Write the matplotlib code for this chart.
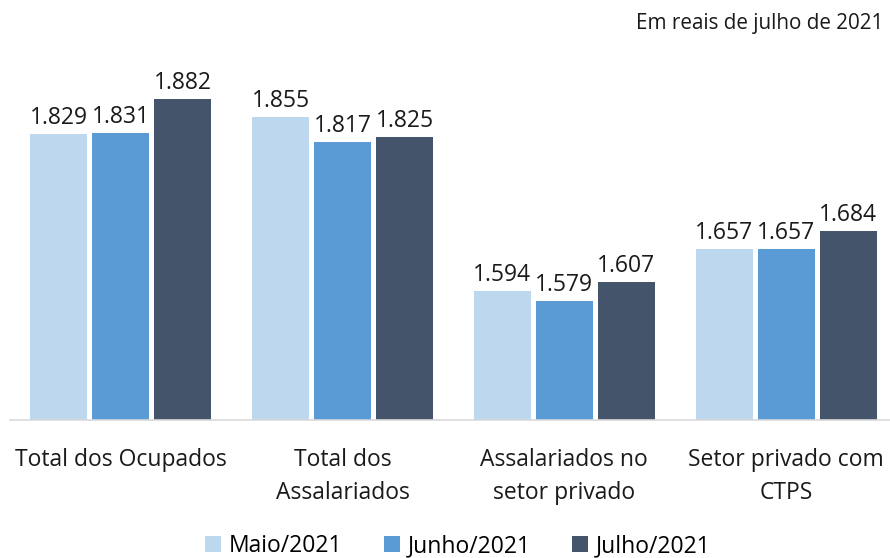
import numpy as np
import matplotlib.pyplot as plt
from matplotlib.patches import Patch

plt.rcParams["font.family"] = ["Open Sans", "DejaVu Sans"]

# data
categories = ["Total dos Ocupados", "Total dos\nAssalariados",
              "Assalariados no\nsetor privado", "Setor privado com\nCTPS"]
series_names = ["Maio/2021", "Junho/2021", "Julho/2021"]
maio = [1829, 1855, 1594, 1657]
junho = [1831, 1817, 1579, 1657]
julho = [1882, 1825, 1607, 1684]
colors = ["#BDD7EE", "#5B9BD5", "#44546A"]

fig = plt.figure(figsize=(8.9, 5.58), dpi=100)
ax = fig.add_axes([10 / 890, 138 / 558, 887 / 890, 400 / 558])

x = np.arange(len(categories))
width = 0.257
step = 0.28

for i, (vals, col, name) in enumerate(zip([maio, junho, julho], colors, series_names)):
    pos = x + (i - 1) * step
    bars = ax.bar(pos, vals, width, color=col, label=name, zorder=2)
    for b, v in zip(bars, vals):
        ax.text(b.get_x() + b.get_width() / 2, v + 6,
                f"{v / 1000:.3f}", ha="center", va="bottom",
                fontsize=16.5, color="#1a1a1a")

ax.set_ylim(1400, 2000)
ax.set_xlim(-0.5, len(categories) - 0.5)
ax.set_yticks([])
ax.set_xticks(x)
ax.set_xticklabels(categories, fontsize=16.5, color="#1a1a1a", linespacing=1.5)
ax.tick_params(axis="x", length=0, pad=20)

for s in ["top", "right", "left"]:
    ax.spines[s].set_visible(False)
ax.spines["bottom"].set_color("#d9d9d9")
ax.spines["bottom"].set_linewidth(1.2)

fig.text(883 / 890, 1 - 24 / 558, "Em reais de julho de 2021",
         ha="right", va="center", fontsize=14.9, color="#1a1a1a")

handles = [Patch(facecolor=c, label=n) for c, n in zip(colors, series_names)]
fig.legend(handles=handles, loc="center", bbox_to_anchor=(458 / 890, 1 - 546 / 558),
           ncol=3, frameon=False, fontsize=16.5, handlelength=0.7, handleheight=0.7,
           handletextpad=0.35, columnspacing=1.8)

fig.savefig("out.png", dpi=100)
